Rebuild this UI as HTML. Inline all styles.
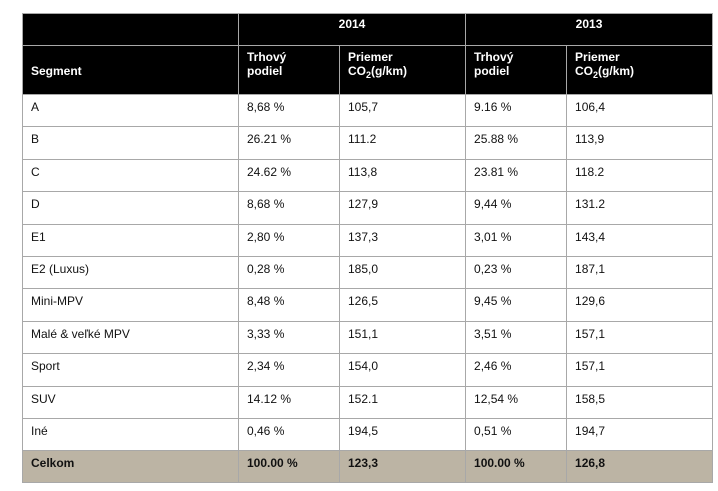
<!DOCTYPE html>
<html><head><meta charset="utf-8"><style>
body{margin:0;background:#fff;width:718px;height:491px;overflow:hidden;font-family:"Liberation Sans",Arial,sans-serif;}
table{position:absolute;left:22px;top:13px;border-collapse:collapse;table-layout:fixed;width:690px;font-size:12px;color:#111;}
td,th{border:1px solid #a8a8a8;padding:5px 8px 0 8px;vertical-align:top;text-align:left;height:27px;line-height:14px;box-sizing:border-box;}
td{height:32.4px;}
th{background:#000;color:#fff;font-weight:bold;}
sub{font-size:9px;line-height:0;vertical-align:-3px;}
.h1 th{height:32px;text-align:center;padding-top:3px;}
.h2 th{height:49px;padding-top:4px;}
.h2 th.seg{vertical-align:bottom;padding-bottom:16px;}
.tot td{background:#bcb4a4;font-weight:bold;height:32px;}
</style></head><body>
<table>
<colgroup><col style="width:216px"><col style="width:101px"><col style="width:126px"><col style="width:101px"><col style="width:146px"></colgroup>
<tr class="h1"><th></th><th colspan="2">2014</th><th colspan="2">2013</th></tr>
<tr class="h2"><th class="seg">Segment</th><th>Trhový<br>podiel</th><th>Priemer<br>CO<sub>2</sub>(g/km)</th><th>Trhový<br>podiel</th><th>Priemer<br>CO<sub>2</sub>(g/km)</th></tr>
<tr><td>A</td><td>8,68 %</td><td>105,7</td><td>9.16 %</td><td>106,4</td></tr>
<tr><td>B</td><td>26.21 %</td><td>111.2</td><td>25.88 %</td><td>113,9</td></tr>
<tr><td>C</td><td>24.62 %</td><td>113,8</td><td>23.81 %</td><td>118.2</td></tr>
<tr><td>D</td><td>8,68 %</td><td>127,9</td><td>9,44 %</td><td>131.2</td></tr>
<tr><td>E1</td><td>2,80 %</td><td>137,3</td><td>3,01 %</td><td>143,4</td></tr>
<tr><td>E2 (Luxus)</td><td>0,28 %</td><td>185,0</td><td>0,23 %</td><td>187,1</td></tr>
<tr><td>Mini-MPV</td><td>8,48 %</td><td>126,5</td><td>9,45 %</td><td>129,6</td></tr>
<tr><td>Malé &amp; veľké MPV</td><td>3,33 %</td><td>151,1</td><td>3,51 %</td><td>157,1</td></tr>
<tr><td>Sport</td><td>2,34 %</td><td>154,0</td><td>2,46 %</td><td>157,1</td></tr>
<tr><td>SUV</td><td>14.12 %</td><td>152.1</td><td>12,54 %</td><td>158,5</td></tr>
<tr><td>Iné</td><td>0,46 %</td><td>194,5</td><td>0,51 %</td><td>194,7</td></tr>
<tr class="tot"><td>Celkom</td><td>100.00 %</td><td>123,3</td><td>100.00 %</td><td>126,8</td></tr>
</table>
</body></html>
